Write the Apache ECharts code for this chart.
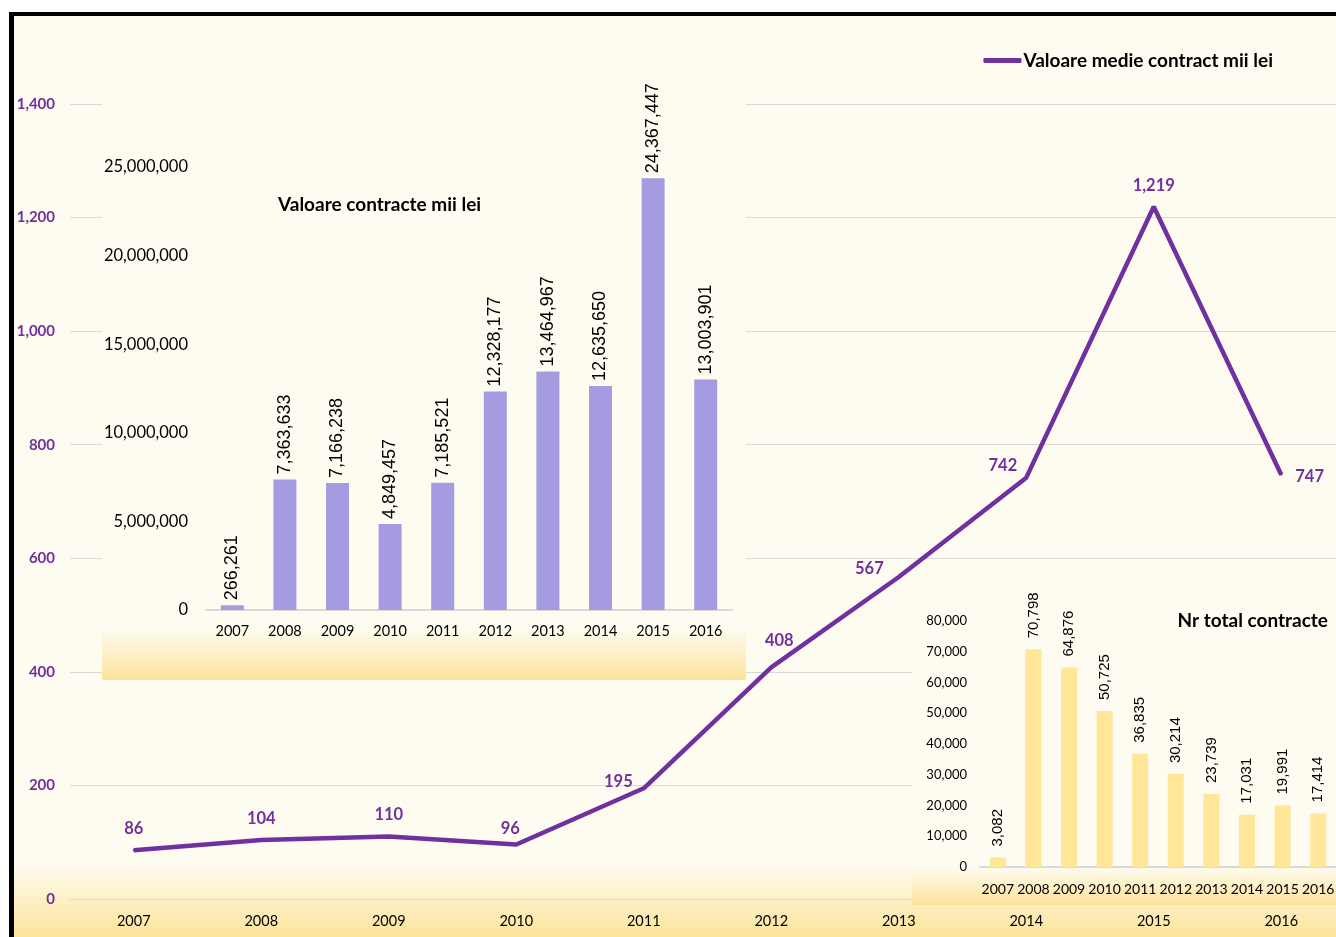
<!DOCTYPE html>
<html>
<head>
<meta charset="utf-8">
<title>Valoare medie contract</title>
<script src="https://cdn.jsdelivr.net/npm/echarts@6/dist/echarts.min.js"></script>
<style>
  html, body { margin: 0; padding: 0; background: #fff; }
  #bg {
    position: absolute; left: 14px; top: 16px; width: 1322px; height: 921px;
    background: linear-gradient(to bottom, #FEFCF1 0%, #FEFCF1 92%, #FDE49B 100%);
  }
  #chart { position: absolute; left: 0; top: 0; width: 1336px; height: 937px; }
  #frame {
    position: absolute; left: 9px; top: 12px; width: 1327px; height: 925px;
    border-left: 5px solid #000; border-top: 4px solid #000;
    box-sizing: border-box; pointer-events: none;
  }
</style>
</head>
<body>
<div id="bg"></div>
<div id="chart"></div>
<div id="frame"></div>
<script>
// date
const years = ["2007", "2008", "2009", "2010", "2011", "2012", "2013", "2014", "2015", "2016"];
const avgContract = [86, 104, 110, 96, 195, 408, 567, 742, 1219, 747];
const totalValue = [266261, 7363633, 7166238, 4849457, 7185521, 12328177, 13464967, 12635650, 24367447, 13003901];
const totalCount = [3082, 70798, 64876, 50725, 36835, 30214, 23739, 17031, 19991, 17414];
const mainTicks = { min: 0, max: 1400, interval: 200 };
const valueTicks = { min: 0, max: 25000000, interval: 5000000 };
const countTicks = { min: 0, max: 80000, interval: 10000 };

const PURPLE = "#7030A0";
const FONT = "Lato, 'Noto Sans', sans-serif";
const NUMFONT = "'Liberation Sans', Arial, sans-serif";
const fmt = (v) => Number(v).toLocaleString("en-US");

// pozitia etichetelor pe linie (unde nu e deasupra)
const lineLabel = {
  "2010": { position: "top", distance: 6, offset: [-6, 0] },
  "2011": { position: "left", distance: 10, offset: [0, -7] },
  "2012": { position: "top", distance: 17, offset: [8, 0] },
  "2013": { position: "left", distance: 14, offset: [0, -8] },
  "2014": { position: "left", distance: 8, offset: [0, -12] },
  "2016": { position: "right", distance: 13, offset: [0, 2] },
};

let chart = echarts.init(document.getElementById("chart"));

function panelFill(start) {
  return new echarts.graphic.LinearGradient(0, 0, 0, 1, [
    { offset: 0, color: "#FEFCF1" },
    { offset: start, color: "#FEFCF1" },
    { offset: 1, color: "#FDE39A" },
  ]);
}

let option = {
  backgroundColor: "transparent",
  animation: false,
  textStyle: { fontFamily: FONT },
  title: [
    {
      text: "Valoare contracte mii lei",
      left: 273, top: 190, z: 7,
      textStyle: { fontFamily: FONT, fontSize: 19, fontWeight: "bold", color: "#000" },
    },
    {
      text: "Nr total contracte",
      right: 3, top: 606, z: 7,
      textStyle: { fontFamily: FONT, fontSize: 19, fontWeight: "bold", color: "#000" },
    },
  ],
  legend: {
    data: ["Valoare medie contract mii lei"],
    right: 58, top: 46,
    icon: "roundRect",
    itemWidth: 38, itemHeight: 5, itemGap: 4,
    textStyle: { fontFamily: FONT, fontSize: 19, fontWeight: "bold", color: "#000", padding: [0, 0, 0, -3] },
  },
  graphic: [
    {
      type: "rect", z: 5,
      shape: { x: 102, y: 70, width: 644, height: 610 },
      style: { fill: panelFill(0.915) },
    },
    {
      type: "rect", z: 5,
      shape: { x: 912, y: 585, width: 424, height: 320 },
      style: { fill: panelFill(0.88) },
    },
  ],
  grid: [
    { left: 70, width: 1275, top: 104, bottom: 38, outerBoundsMode: "none" },
    { left: 206, right: 604, top: 167, bottom: 327, outerBoundsMode: "none" },
    { left: 980, right: 0, top: 621, bottom: 70, outerBoundsMode: "none" },
  ],
  xAxis: [
    {
      gridIndex: 0, type: "category", data: years,
      axisLine: { show: true, lineStyle: { color: "#D9D9D9" } },
      axisTick: { show: false },
      axisLabel: { color: "#000", fontSize: 14.5, margin: 15, fontFamily: FONT },
    },
    {
      gridIndex: 1, type: "category", data: years, z: 6,
      axisLine: { show: true, lineStyle: { color: "#D9D9D9", width: 2 } },
      axisTick: { show: false },
      axisLabel: { color: "#000", fontSize: 14.5, margin: 14, fontFamily: FONT },
    },
    {
      gridIndex: 2, type: "category", data: years, z: 6,
      axisLine: { show: true, lineStyle: { color: "#D9D9D9", width: 2 } },
      axisTick: { show: false },
      axisLabel: { color: "#000", fontSize: 14, margin: 15, interval: 0, fontFamily: FONT },
    },
  ],
  yAxis: [
    {
      gridIndex: 0, type: "value",
      min: mainTicks.min, max: mainTicks.max, interval: mainTicks.interval,
      axisLine: { show: false }, axisTick: { show: false },
      splitLine: { lineStyle: { color: "#D9D9D9" } },
      axisLabel: { color: PURPLE, fontWeight: "bold", fontSize: 15, margin: 15, formatter: fmt, fontFamily: FONT },
    },
    {
      gridIndex: 1, type: "value", z: 6,
      min: valueTicks.min, max: valueTicks.max, interval: valueTicks.interval,
      axisLine: { show: false }, axisTick: { show: false },
      splitLine: { show: false },
      axisLabel: { color: "#000", fontSize: 16.5, margin: 18, formatter: fmt, fontFamily: FONT },
    },
    {
      gridIndex: 2, type: "value", z: 6,
      min: countTicks.min, max: countTicks.max, interval: countTicks.interval,
      axisLine: { show: false }, axisTick: { show: false },
      splitLine: { show: false },
      axisLabel: { color: "#000", fontSize: 13, margin: 13, formatter: fmt, fontFamily: FONT },
    },
  ],
  series: [
    {
      name: "Valoare medie contract mii lei",
      type: "line",
      xAxisIndex: 0, yAxisIndex: 0,
      z: 2,
      symbol: "circle", symbolSize: 2, showSymbol: true,
      lineStyle: { color: PURPLE, width: 4.5 },
      itemStyle: { color: PURPLE },
      label: {
        show: true, position: "top", distance: 12,
        color: PURPLE, fontWeight: "bold", fontSize: 16.5, fontFamily: FONT,
        formatter: (p) => fmt(p.value),
      },
      data: avgContract.map((v, i) => {
        const extra = lineLabel[years[i]];
        return extra ? { value: v, label: extra } : v;
      }),
    },
    {
      name: "Valoare contracte mii lei",
      type: "bar",
      xAxisIndex: 1, yAxisIndex: 1,
      z: 6, barWidth: 23,
      itemStyle: { color: "#A59BE0" },
      label: {
        show: true, position: "top", rotate: 90, align: "left", verticalAlign: "middle",
        distance: 5, color: "#000", fontSize: 18, fontFamily: NUMFONT,
        formatter: (p) => fmt(p.value),
      },
      data: totalValue,
    },
    {
      name: "Nr total contracte",
      type: "bar",
      xAxisIndex: 2, yAxisIndex: 2,
      z: 6, barWidth: 16,
      itemStyle: { color: "#FFE699" },
      label: {
        show: true, position: "top", rotate: 90, align: "left", verticalAlign: "middle",
        distance: 11, color: "#000", fontSize: 15, fontFamily: NUMFONT,
        formatter: (p) => fmt(p.value),
      },
      data: totalCount,
    },
  ],
};

chart.setOption(option);
</script>
</body>
</html>
